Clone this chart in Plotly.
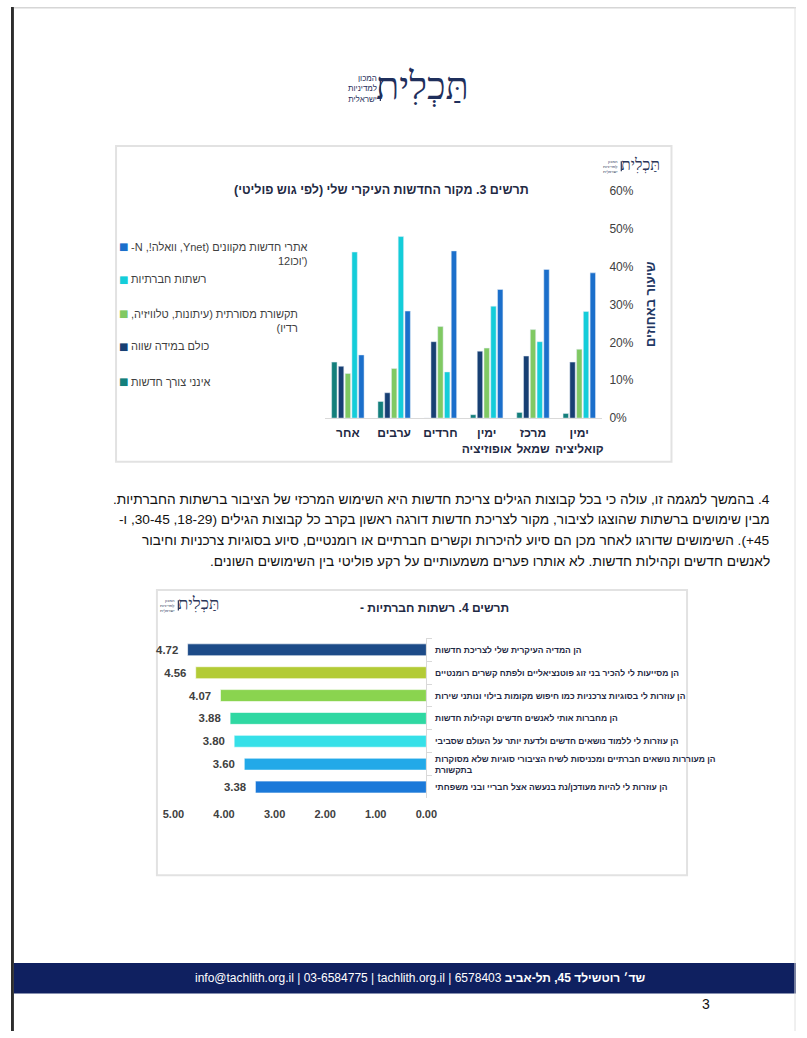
import plotly.graph_objects as go

W, H = 807, 1038


def px(x):
    return x / W


def py(y):
    return 1 - y / H


RLE, PDF, LRM = "\u202b", "\u202c", "\u200e"
NBSP = "\u00a0"


def rtl(s):
    return RLE + s + PDF


# ---------------- Chart 3 data ----------------
groups = ["אחר", "ערבים", "חרדים", "ימין<br>אופוזיציה", "מרכז<br>שמאל", "ימין<br>קואליציה"]
series_names = [
    "אינני צורך חדשות",
    "כולם במידה שווה",
    "תקשורת מסורתית (עיתונות, טלוויזיה, רדיו)",
    "רשתות חברתיות",
    "אתרי חדשות מקוונים (Ynet, וואלה!, N-12 וכו')",
]
no_news = [14.8, 4.4, 0.0, 0.9, 1.5, 1.2]
all_equal = [13.7, 6.7, 20.2, 17.7, 16.4, 14.8]
traditional = [11.8, 13.1, 24.2, 18.5, 23.4, 18.2]
social = [43.9, 48.0, 12.2, 29.6, 20.2, 28.2]
online = [16.7, 28.3, 44.2, 34.0, 39.3, 38.4]
series_values = [no_news, all_equal, traditional, social, online]
series_colors = ["#137F7B", "#173F73", "#80C963", "#14CDD9", "#1B6FCB"]
y_ticks = [0, 10, 20, 30, 40, 50, 60]

legend_lines = [
    [rtl("אינני צורך חדשות")],
    [rtl("כולם במידה שווה")],
    [rtl("תקשורת מסורתית (עיתונות, טלוויזיה,"), rtl("רדיו)")],
    [rtl("רשתות חברתיות")],
    [rtl("אתרי חדשות מקוונים (Ynet, וואלה!, N-"), LRM + "12וכו'" + LRM + ")"],
]
legend_y = [380, 344, 311, 276, 243]

# ---------------- Chart 4 data ----------------
items = [
    "הן המדיה העיקרית שלי לצריכת חדשות",
    "הן מסייעות לי להכיר בני זוג פוטנציאליים ולפתח קשרים רומנטיים",
    "הן עוזרות לי בסוגיות צרכניות כמו חיפוש מקומות בילוי ונותני שירות",
    "הן מחברות אותי לאנשים חדשים וקהילות חדשות",
    "הן עוזרות לי ללמוד נושאים חדשים ולדעת יותר על העולם שסביבי",
    "הן מעוררות נושאים חברתיים ומכניסות לשיח הציבורי סוגיות שלא מסוקרות<br>בתקשורת",
    "הן עוזרות לי להיות מעודכן/נת בנעשה אצל חבריי ובני משפחתי",
]
scores = [4.72, 4.56, 4.07, 3.88, 3.80, 3.60, 3.38]
score_colors = ["#1D4B88", "#B3CB36", "#8AD44F", "#2FD8A2", "#36E0E8", "#22A9E8", "#1B79D9"]
x2_ticks = [0, 1, 2, 3, 4, 5]

FONT = "Liberation Sans"
NAVY = "#1F2A44"

fig = go.Figure()

for name, vals, col in zip(series_names, series_values, series_colors):
    fig.add_trace(go.Bar(x=groups, y=vals, name=name, marker_color=col,
                         xaxis="x", yaxis="y", showlegend=False,
                         hoverinfo="x+y"))

fig.add_trace(go.Bar(y=items, x=scores, orientation="h",
                     marker=dict(color=score_colors, line=dict(color="rgba(255,255,255,0.6)", width=1)),
                     width=0.52,
                     texttemplate="<b>%{x:.2f}</b>" + NBSP * 2, textposition="outside",
                     textfont=dict(family=FONT, size=11.5, color="#404040"),
                     cliponaxis=False, xaxis="x2", yaxis="y2", showlegend=False))

shapes = []
annotations = []

# page decorations
shapes.append(dict(type="rect", xref="paper", yref="paper", x0=0, x1=px(3), y0=0, y1=1,
                   fillcolor="#2D2D2D", line_width=0, layer="below"))
shapes.append(dict(type="rect", xref="paper", yref="paper", x0=px(3), x1=1, y0=py(1.5), y1=1,
                   fillcolor="#D6D6D6", line_width=0, layer="below"))
shapes.append(dict(type="line", xref="paper", yref="paper", x0=px(806), x1=px(806), y0=0, y1=1,
                   line=dict(color="#E0E0E0", width=1)))
# chart boxes
shapes.append(dict(type="rect", xref="paper", yref="paper", x0=px(108), x1=px(679), y0=py(461), y1=py(141),
                   line=dict(color="#E2E2E2", width=2), layer="below"))
shapes.append(dict(type="rect", xref="paper", yref="paper", x0=px(150), x1=px(695), y0=py(880), y1=py(591),
                   line=dict(color="#E2E2E2", width=2), layer="below"))
# footer band
shapes.append(dict(type="rect", xref="paper", yref="paper", x0=px(3), x1=1, y0=py(1000), y1=py(969),
                   fillcolor="#0F2060", line_width=0, layer="below"))


def logo(xr, yc, size, small_size, color="#1F2F5C"):
    annotations.append(dict(xref="paper", yref="paper", x=px(xr), y=py(yc), xanchor="right", yanchor="middle",
                            text="תַּכְלִית", showarrow=False, borderpad=0,
                            font=dict(family="Liberation Serif", size=size, color=color)))
    sep_x = xr - size * 2.35 - 3
    h = size * 0.62
    y_bot = yc + size * 0.4
    shapes.append(dict(type="line", xref="paper", yref="paper", x0=px(sep_x), x1=px(sep_x),
                       y0=py(y_bot), y1=py(y_bot - h),
                       line=dict(color=color, width=1.2)))
    annotations.append(dict(xref="paper", yref="paper", x=px(sep_x - 2), y=py(y_bot - h / 2),
                            xanchor="right", yanchor="middle", align="right", borderpad=0,
                            text="המכון<br>למדיניות<br>ישראלית", showarrow=False,
                            font=dict(family=FONT, size=small_size, color=color)))


logo(472, 80, 38, 8)
logo(668, 160, 16, 4, color="#2B3558")
logo(215, 605, 17, 4, color="#2B3558")

# chart 3 title and axis title
annotations.append(dict(xref="paper", yref="paper", x=px(381), y=py(185), xanchor="center", yanchor="middle",
                        text="<b>" + rtl("תרשים 3. מקור החדשות העיקרי שלי (לפי גוש פוליטי)") + "</b>",
                        showarrow=False, font=dict(family=FONT, size=12.5, color=NAVY)))
annotations.append(dict(xref="paper", yref="paper", x=px(658), y=py(302), xanchor="center", yanchor="middle",
                        text="<b>שיעור באחוזים</b>", textangle=-90,
                        showarrow=False, font=dict(family=FONT, size=13, color="#1F3864")))

# legend for chart 3
for lines, col, yy in zip(legend_lines, series_colors, legend_y):
    annotations.append(dict(xref="paper", yref="paper", x=px(116), y=py(yy), xanchor="center", yanchor="middle",
                            text="■", showarrow=False, font=dict(family="DejaVu Sans", size=10, color=col)))
    annotations.append(dict(xref="paper", yref="paper", x=px(121), y=py(yy - 8), xanchor="left", yanchor="top",
                            align="right", text="<br>".join(lines), showarrow=False,
                            font=dict(family=FONT, size=11, color="#404040")))

# chart 4 title
annotations.append(dict(xref="paper", yref="paper", x=px(435), y=py(609), xanchor="center", yanchor="middle",
                        text="<b>" + rtl("תרשים 4. רשתות חברתיות -") + "</b>",
                        showarrow=False, font=dict(family=FONT, size=12, color=NAVY)))

# paragraph
para = [
    "4. בהמשך למגמה זו, עולה כי בכל קבוצות הגילים צריכת חדשות היא השימוש המרכזי של הציבור ברשתות החברתיות.",
    "מבין שימושים ברשתות שהוצגו לציבור, מקור לצריכת חדשות דורגה ראשון בקרב כל קבוצות הגילים (18-29, 30-45, ו-",
    "45+). השימושים שדורגו לאחר מכן הם סיוע להיכרות וקשרים חברתיים או רומנטיים, סיוע בסוגיות צרכניות וחיבור",
    "לאנשים חדשים וקהילות חדשות. לא אותרו פערים משמעותיים על רקע פוליטי בין השימושים השונים.",
]
for i, line in enumerate(para):
    annotations.append(dict(xref="paper", yref="paper", x=px(782), y=py(499 + i * 21), xanchor="right",
                            yanchor="middle", text=rtl(line), showarrow=False,
                            font=dict(family=FONT, size=13.7, color="#111111")))

# footer
annotations.append(dict(xref="paper", yref="paper", x=px(420), y=py(984.5), xanchor="center", yanchor="middle",
                        text=rtl("<b>שד׳ רוטשילד 45, תל-אביב</b> 6578403 | info@tachlith.org.il | 03-6584775 | tachlith.org.il"),
                        showarrow=False, font=dict(family=FONT, size=12, color="white")))
annotations.append(dict(xref="paper", yref="paper", x=px(714), y=py(1011), xanchor="center", yanchor="middle",
                        text="3", showarrow=False, font=dict(family=FONT, size=14, color="#111111")))

fig.update_layout(
    width=W, height=H, margin=dict(l=0, r=0, t=0, b=0),
    paper_bgcolor="white", plot_bgcolor="rgba(0,0,0,0)",
    barmode="group", bargap=0.27, bargroupgap=0.2,
    showlegend=False,
    font=dict(family=FONT),
    xaxis=dict(domain=[px(322.5), px(608)], anchor="y", type="category",
               showline=True, linecolor="#D9D9D9", linewidth=1, ticks="",
               tickfont=dict(family=FONT, size=12, color="#1F2A44", weight="bold"),
               ticklabelstandoff=4, fixedrange=True),
    yaxis=dict(domain=[py(416.7), py(186.7)], anchor="x", range=[0, 60], side="right",
               tickvals=y_ticks, ticktext=[f"{v}%" for v in y_ticks],
               showgrid=False, zeroline=False, showline=False,
               tickfont=dict(family=FONT, size=12, color="#404040"),
               ticklabelstandoff=6, fixedrange=True),
    xaxis2=dict(domain=[px(167), px(427)], anchor="y2", range=[5, 0],
                tickvals=x2_ticks, tickformat=".2f",
                showgrid=False, zeroline=False, showline=False, ticks="",
                tickfont=dict(family=FONT, size=11, color="#404040", weight="bold"),
                ticklabelstandoff=8, fixedrange=True),
    yaxis2=dict(domain=[py(802.3), py(640)], anchor="x2", side="right", type="category",
                autorange="reversed", showline=True, linecolor="#D9D9D9", linewidth=1,
                ticks="outside", tickson="boundaries", ticklen=5, tickcolor="#D9D9D9",
                tickfont=dict(family=FONT, size=8.5, color=NAVY, weight="bold"),
                ticklabelstandoff=6, fixedrange=True),
    shapes=shapes, annotations=annotations,
)

fig.write_html("out.html", config={"responsive": False, "displayModeBar": False},
               post_script="document.body.style.margin='0';document.body.style.padding='0';"
                           "document.documentElement.style.overflow='hidden';document.body.style.overflow='hidden';")
